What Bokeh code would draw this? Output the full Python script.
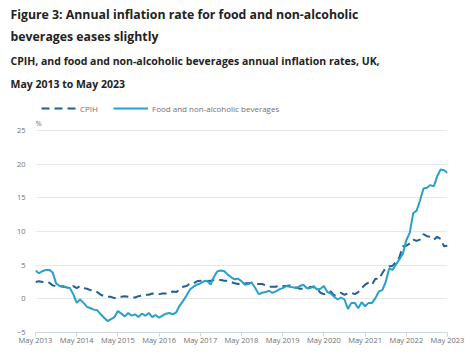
from bokeh.plotting import figure
from bokeh.models import Range1d, FixedTicker, Label, Legend, LegendItem, Title
from bokeh.embed import file_html
from bokeh.resources import INLINE

# ---- data (monthly, May 2013 to May 2023) ----
tick_labels = ["May 2013", "May 2014", "May 2015", "May 2016", "May 2017", "May 2018",
               "May 2019", "May 2020", "May 2021", "May 2022", "May 2023"]
y_ticks = [-5, 0, 5, 10, 15, 20, 25]

cpih = [
    2.5, 2.6, 2.5, 2.5, 2.4, 2.0, 1.9, 1.9,
    1.8, 1.7, 1.6, 1.9, 1.6, 1.9, 1.6, 1.5, 1.3, 1.2, 1.0, 0.6,
    0.4, 0.3, 0.3, 0.1, 0.3, 0.3, 0.4, 0.3, 0.2, 0.2, 0.4, 0.5,
    0.6, 0.6, 0.8, 0.7, 0.7, 0.8, 0.8, 0.8, 1.1, 1.0, 1.4, 1.8,
    1.9, 2.3, 2.3, 2.6, 2.7, 2.6, 2.6, 2.7, 2.8, 2.8, 2.8, 2.7,
    2.7, 2.5, 2.3, 2.2, 2.3, 2.3, 2.3, 2.4, 2.2, 2.2, 2.2, 2.0,
    1.8, 1.8, 1.8, 2.0, 1.9, 1.9, 2.0, 1.7, 1.7, 1.5, 1.5, 1.4,
    1.8, 1.7, 1.5, 0.9, 0.7, 0.8, 1.1, 0.5, 0.7, 0.9, 0.6, 0.8,
    0.9, 0.7, 1.0, 1.6, 2.1, 2.4, 2.1, 3.0, 2.9, 3.8, 4.6, 4.8,
    4.9, 5.5, 6.2, 7.8, 7.9, 8.2, 8.8, 8.6, 8.8, 9.6, 9.3, 9.2,
    8.8, 9.2, 8.9, 7.8, 7.9,
]

food = [
    4.2, 3.8, 4.1, 4.3, 4.3, 3.9, 2.3, 1.9,
    1.9, 1.7, 1.6, 0.7, -0.6, -0.1, -0.6, -1.2, -1.4, -1.6, -1.7, -2.3,
    -2.8, -3.3, -3.0, -2.7, -1.8, -2.2, -2.6, -2.1, -2.5, -2.3, -2.7, -2.2,
    -2.5, -2.1, -2.7, -2.4, -2.8, -2.5, -2.2, -2.1, -2.3, -2.0, -1.0, -0.3,
    0.5, 1.4, 1.8, 2.1, 2.3, 2.6, 2.7, 2.1, 3.3, 4.1, 4.2, 4.1,
    3.6, 3.2, 2.9, 3.0, 2.6, 2.1, 2.2, 2.4, 1.6, 0.7, 0.9, 1.0,
    1.2, 0.9, 1.1, 1.4, 1.6, 1.9, 1.8, 1.7, 1.6, 1.9, 2.1, 1.6,
    1.6, 1.9, 1.4, 1.5, 1.9, 1.0, 0.8, 0.3, -0.1, 0.2, -0.1, -1.5,
    -0.6, -0.6, -1.4, -0.5, -1.1, -0.6, -0.6, 0.1, 1.1, 1.3, 2.5, 4.5,
    4.3, 5.1, 5.9, 6.7, 8.7, 9.8, 12.7, 13.1, 14.6, 16.4, 16.5, 16.9,
    16.7, 18.2, 19.2, 19.1, 18.7,
]

months = list(range(len(food)))
tick_pos = [12 * i for i in range(len(tick_labels))]

FONT = "Open Sans"
GREY = "#707070"
DARK = "#222222"
CPIH_COL = "#206095"
FOOD_COL = "#27A0CC"

p = figure(width=465, height=356, output_backend="svg", toolbar_location=None,
           x_range=Range1d(0, tick_pos[-1]), y_range=Range1d(y_ticks[0], 30.5),
           min_border_left=35, min_border_right=18, min_border_top=93, min_border_bottom=24)
p.outline_line_color = None
p.background_fill_color = "white"
p.border_fill_color = "white"

r_cpih = p.line(months, cpih, line_color=CPIH_COL, line_width=2, line_dash="8 5")
r_food = p.line(months, food, line_color=FOOD_COL, line_width=2)

# axes
p.xaxis.ticker = FixedTicker(ticks=tick_pos)
p.xaxis.major_label_overrides = {t: l for t, l in zip(tick_pos, tick_labels)}
p.xaxis.axis_line_color = "#d0d7de"
p.xaxis.major_tick_line_color = "#d0d7de"
p.xaxis.major_tick_in = 0
p.xaxis.major_tick_out = 4
p.xaxis.minor_tick_line_color = None
p.xaxis.major_label_standoff = -2
p.xaxis.major_label_text_font = FONT
p.xaxis.major_label_text_font_size = "7.5px"
p.xaxis.major_label_text_color = GREY

p.yaxis.ticker = FixedTicker(ticks=y_ticks)
p.yaxis.axis_line_color = None
p.yaxis.major_tick_line_color = None
p.yaxis.major_tick_out = 0
p.yaxis.major_tick_in = 0
p.yaxis.minor_tick_line_color = None
p.yaxis.major_label_standoff = 10
p.yaxis.major_label_text_font = FONT
p.yaxis.major_label_text_font_size = "7.5px"
p.yaxis.major_label_text_color = GREY

p.xgrid.grid_line_color = None
p.ygrid.grid_line_color = "#e8e8e8"
p.ygrid.grid_line_width = 1

# "%" unit label at top of the value axis
p.add_layout(Label(x=0, y=26.05, text="%", text_font=FONT, text_font_size="7.5px",
                   text_color=GREY, text_baseline="middle", text_align="left"))

# legend inside the top of the plot area
legend = Legend(items=[LegendItem(label="CPIH", renderers=[r_cpih]),
                       LegendItem(label="Food and non-alcoholic beverages", renderers=[r_food])],
                orientation="horizontal", location=(6, 218),
                label_text_font=FONT, label_text_font_size="8px", label_text_color=GREY,
                glyph_width=35, glyph_height=12, label_standoff=4, spacing=13,
                padding=0, margin=0, border_line_color=None, background_fill_alpha=0)
p.add_layout(legend, "center")

# titles, added from the plot area upwards
lines = [
    ("May 2013 to May 2023", "10.5px", 6),
    ("CPIH, and food and non-alcoholic beverages annual inflation rates, UK,", "10.5px", 7),
    ("beverages eases slightly", "12.3px", 7),
    ("Figure 3: Annual inflation rate for food and non-alcoholic", "12.3px", 0),
]
for txt, size, so in lines:
    p.add_layout(Title(text=txt, align="left", offset=-25, standoff=so,
                       text_font=FONT, text_font_size=size, text_font_style="bold",
                       text_color=DARK), "above")

open("out.html", "w").write(file_html(p, INLINE))
